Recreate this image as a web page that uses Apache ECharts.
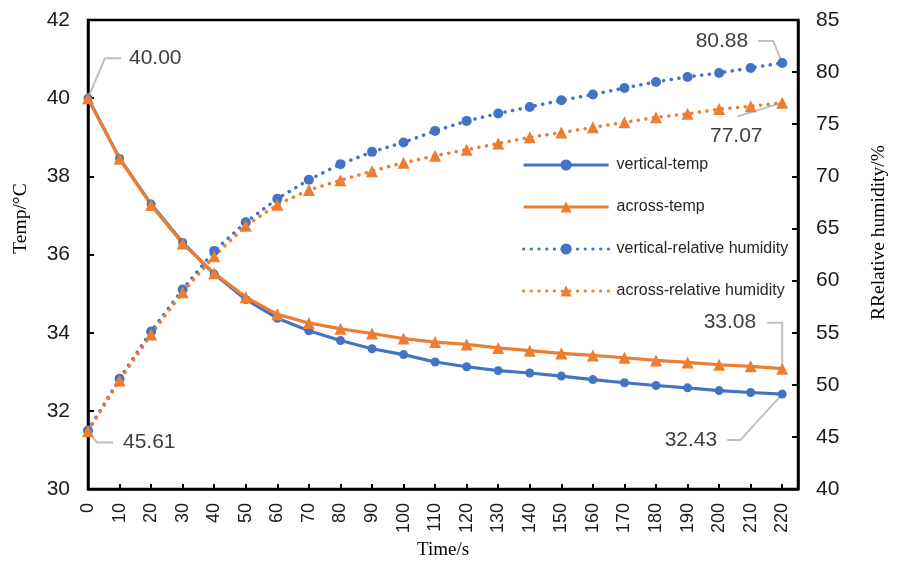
<!DOCTYPE html>
<html>
<head>
<meta charset="utf-8">
<title>Temp / humidity</title>
<script src="https://cdn.jsdelivr.net/npm/echarts@6/dist/echarts.min.js"></script>
<style>
  html, body { margin: 0; padding: 0; background: #fff; }
  #chart { width: 898px; height: 565px; }
</style>
</head>
<body>
<div id="chart"></div>
<script>
  // 横坐标 (s)
  var times = [0, 10, 20, 30, 40, 50, 60, 70, 80, 90, 100, 110, 120, 130, 140, 150, 160, 170, 180, 190, 200, 210, 220];
  // 温度 (°C)
  var vTemp = [40.00, 38.46, 37.29, 36.31, 35.50, 34.85, 34.37, 34.05, 33.80, 33.59, 33.44, 33.25, 33.13, 33.03, 32.97, 32.89, 32.80, 32.72, 32.65, 32.59, 32.52, 32.47, 32.43];
  var aTemp = [40.00, 38.45, 37.27, 36.28, 35.52, 34.91, 34.47, 34.25, 34.10, 33.98, 33.85, 33.76, 33.70, 33.61, 33.54, 33.47, 33.42, 33.36, 33.29, 33.24, 33.18, 33.14, 33.08];
  // 相对湿度 (%)
  var vHum = [45.61, 50.58, 55.12, 59.15, 62.85, 65.60, 67.85, 69.68, 71.17, 72.35, 73.25, 74.36, 75.32, 76.03, 76.66, 77.30, 77.85, 78.48, 79.06, 79.54, 79.92, 80.40, 80.88];
  var aHum = [45.55, 50.42, 54.83, 58.89, 62.34, 65.27, 67.28, 68.69, 69.62, 70.50, 71.30, 71.98, 72.55, 73.15, 73.75, 74.20, 74.70, 75.18, 75.66, 76.00, 76.45, 76.72, 77.07];
  // 坐标刻度
  var tempTicks = { min: 30, max: 42, interval: 2 };
  var humTicks = { min: 40, max: 85, interval: 5 };

  var names = ['vertical-temp', 'across-temp', 'vertical-relative humidity', 'across-relative humidity'];
  var blue = '#4472C4';
  var orange = '#ED7D31';
  var sans = '"Liberation Sans", Arial, sans-serif';
  var serif = '"Liberation Serif", "Times New Roman", serif';

  function pairs(values) {
    return values.map(function (v, i) { return [times[i], v]; });
  }

  // 数据标签 + 引导线 (偏移量, 单位 px)
  var last = times.length - 1;
  var tempNotes = [
    { x: times[0], v: vTemp[0], line: [[17, -40], [33, -40]], text: [41, -40], align: 'left' },
    { x: times[last], v: vTemp[last], line: [[-42, 46], [-55, 46]], text: [-65, 46], align: 'right' },
    { x: times[last], v: aTemp[last], line: [[0, -46], [-15, -46]], text: [-26, -46], align: 'right' }
  ];
  var humNotes = [
    { x: times[0], v: vHum[0], line: [[9, 12], [25, 12]], text: [35, 12], align: 'left' },
    { x: times[last], v: vHum[last], line: [[-9, -22], [-24, -22]], text: [-34, -22], align: 'right' },
    { x: times[last], v: aHum[last], line: [[-45, 14]], text: [-46, 34], align: 'center' }
  ];

  function noteSeries(list, yAxisIndex) {
    return {
      type: 'custom',
      yAxisIndex: yAxisIndex,
      silent: true,
      clip: false,
      z: 1,
      data: list.map(function (n) { return [n.x, n.v]; }),
      renderItem: function (params, api) {
        var n = list[params.dataIndex];
        var p = api.coord([api.value(0), api.value(1)]);
        var pts = [p].concat(n.line.map(function (d) { return [p[0] + d[0], p[1] + d[1]]; }));
        return {
          type: 'group',
          children: [
            { type: 'polyline', shape: { points: pts }, style: { stroke: '#bfbfbf', lineWidth: 2, fill: null } },
            {
              type: 'text', x: p[0] + n.text[0], y: p[1] + n.text[1],
              style: { text: api.value(1).toFixed(2), fill: '#404040', fontSize: 21, fontFamily: sans, align: n.align, verticalAlign: 'middle' }
            }
          ]
        };
      }
    };
  }

  function lineSeries(name, values, color, symbol, size, dotted, yAxisIndex) {
    return {
      name: name,
      type: 'line',
      yAxisIndex: yAxisIndex,
      data: pairs(values),
      symbol: symbol,
      symbolSize: size,
      showAllSymbol: true,
      z: 3,
      itemStyle: { color: color },
      lineStyle: dotted ? { color: color, width: 3.5, type: [0.1, 7.6], cap: 'round' } : { color: color, width: 3.2 }
    };
  }

  var chart = echarts.init(document.getElementById('chart'));
  chart.setOption({
    animation: false,
    backgroundColor: '#fff',
    grid: { left: 88, right: 100, top: 20, bottom: 74.5, show: true, borderColor: '#000', borderWidth: 2.5 },
    legend: {
      data: names,
      orient: 'vertical',
      left: 517,
      top: 152,
      itemWidth: 85,
      itemHeight: 14,
      itemGap: 26,
      lineStyle: { width: 3.2 },
      textStyle: { fontSize: 16, fontFamily: sans, color: '#262626', padding: [0, 0, 0, 3] }
    },
    xAxis: {
      type: 'value',
      min: 0,
      max: 225,
      interval: 10,
      name: 'Time/s',
      nameLocation: 'middle',
      nameGap: 50,
      nameTextStyle: { fontFamily: serif, fontSize: 19, color: '#000' },
      axisLine: { lineStyle: { color: '#000', width: 2.5 } },
      axisTick: { inside: true, length: 5, lineStyle: { color: '#000', width: 2 } },
      splitLine: { show: false },
      axisLabel: {
        rotate: 90,
        margin: 14,
        fontSize: 18,
        fontFamily: sans,
        color: '#1a1a1a',
        formatter: function (v) { return v > 220 ? '' : String(v); }
      }
    },
    yAxis: [{
      type: 'value',
      min: tempTicks.min,
      max: tempTicks.max,
      interval: tempTicks.interval,
      name: 'Temp/°C',
      nameLocation: 'middle',
      nameRotate: 90,
      nameGap: 57,
      nameTextStyle: { fontFamily: serif, fontSize: 19.5, color: '#000', padding: [0, 0, 0, 72] },
      axisLine: { show: true, lineStyle: { color: '#000', width: 2.5 } },
      axisTick: { show: true, inside: true, length: 6, lineStyle: { color: '#000', width: 2 } },
      splitLine: { show: false },
      axisLabel: { margin: 18, fontSize: 21, fontFamily: sans, color: '#1a1a1a' }
    }, {
      type: 'value',
      position: 'right',
      min: humTicks.min,
      max: humTicks.max,
      interval: humTicks.interval,
      name: 'RRelative humidity/%',
      nameLocation: 'middle',
      nameRotate: 90,
      nameGap: 71,
      nameTextStyle: { fontFamily: serif, fontSize: 19.5, color: '#000', padding: [0, 0, 0, 44] },
      axisLine: { show: true, lineStyle: { color: '#000', width: 2.5 } },
      axisTick: { show: true, inside: true, length: 6, lineStyle: { color: '#000', width: 2 } },
      splitLine: { show: false },
      axisLabel: { margin: 18, fontSize: 21, fontFamily: sans, color: '#1a1a1a' }
    }],
    series: [
      lineSeries(names[0], vTemp, blue, 'circle', 9, false, 0),
      lineSeries(names[1], aTemp, orange, 'triangle', 12, false, 0),
      lineSeries(names[2], vHum, blue, 'circle', 10, true, 1),
      lineSeries(names[3], aHum, orange, 'triangle', 12, true, 1),
      noteSeries(tempNotes, 0),
      noteSeries(humNotes, 1)
    ]
  });
</script>
</body>
</html>
